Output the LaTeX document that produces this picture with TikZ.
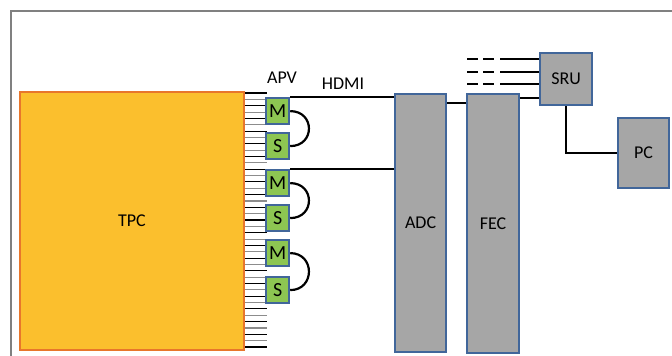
\documentclass[tikz,border=0pt]{standalone}
\usepackage{fontspec}
\setmainfont{Carlito}
\definecolor{tpcorange}{HTML}{FBBF2D}
\definecolor{tpcedge}{HTML}{E8762B}
\definecolor{boxgray}{HTML}{A6A6A6}
\definecolor{boxedge}{HTML}{41669A}
\definecolor{apvgreen}{HTML}{8DC652}
\definecolor{framegray}{HTML}{808080}

\begin{document}
\begin{tikzpicture}[x=1pt, y=-1pt, font=\fontsize{18}{21}\selectfont,
    unit/.style={draw=boxedge, fill=boxgray, line width=2.2pt, inner sep=0pt, anchor=north west},
    chip/.style={draw=boxedge, fill=apvgreen, line width=2.2pt, inner sep=0pt, anchor=north west,
      minimum width=23, minimum height=26, font=\fontsize{20}{22}\selectfont},
    wire/.style={black, line width=2.2pt}]
  \useasboundingbox (0,0) rectangle (672,356);
  \draw[framegray, line width=2pt] (11,356) -- (11,11) -- (672,11);

  % detector and its strips
  \node[draw=tpcedge, fill=tpcorange, line width=2pt, inner sep=0pt, anchor=north west,
    minimum width=224, minimum height=258] (tpc) at (19,91) {TPC};
  \foreach \i in {0,...,40}{
    \pgfmathsetmacro{\ypos}{93+6.35*\i}
    \ifodd\i \def\stripcol{black!45}\else \def\stripcol{black}\fi
    \draw[\stripcol, line width=1.1pt] (tpc.east |- 0,\ypos) -- ++(22,0);
  }

  % APV front-end cards
  \node (apvlabel) at (282,78) {APV};
  \node[chip] (m1) at (265,97) {M};
  \node[chip] (s1) at (265,132) {S};
  \node[chip] (m2) at (265,169) {M};
  \node[chip] (s2) at (265,204) {S};
  \node[chip] (m3) at (265,239) {M};
  \node[chip] (s3) at (265,276) {S};
  \foreach \a/\b in {m1/s1, m2/s2, m3/s3}
    \draw[wire] (\a.east) .. controls +(25,0) and +(25,0) .. (\b.east);

  % readout chain
  \node[unit, minimum width=51, minimum height=258] (adc) at (394,93) {ADC};
  \node[unit, minimum width=52, minimum height=259] (fec) at (466,93) {FEC};
  \node[unit, minimum width=52, minimum height=52] (sru) at (539,52) {SRU};
  \node[unit, minimum width=51, minimum height=70] (pc) at (617,117) {PC};

  \node (hdmilabel) at (343,84) {HDMI};
  \draw[wire] (m1.north east) -- (m1.north east -| adc.west);
  \draw[wire] (m2.north east) -- (m2.north east -| adc.west);
  \draw[wire] (adc.east |- 0,103) -- (fec.west |- 0,103);
  \draw[wire] (fec.east |- 0,98) -- (sru.west |- 0,98);
  \foreach \ypos in {59,72,84}{
    \coordinate (feed) at (467,\ypos);
    \draw[wire, dash pattern=on 11pt off 5pt] (feed) -- ++(28,0);
    \draw[wire] (500,\ypos) -- (sru.west |- feed);
  }
  \draw[wire] (sru.south) |- (pc.west);
\end{tikzpicture}
\end{document}
